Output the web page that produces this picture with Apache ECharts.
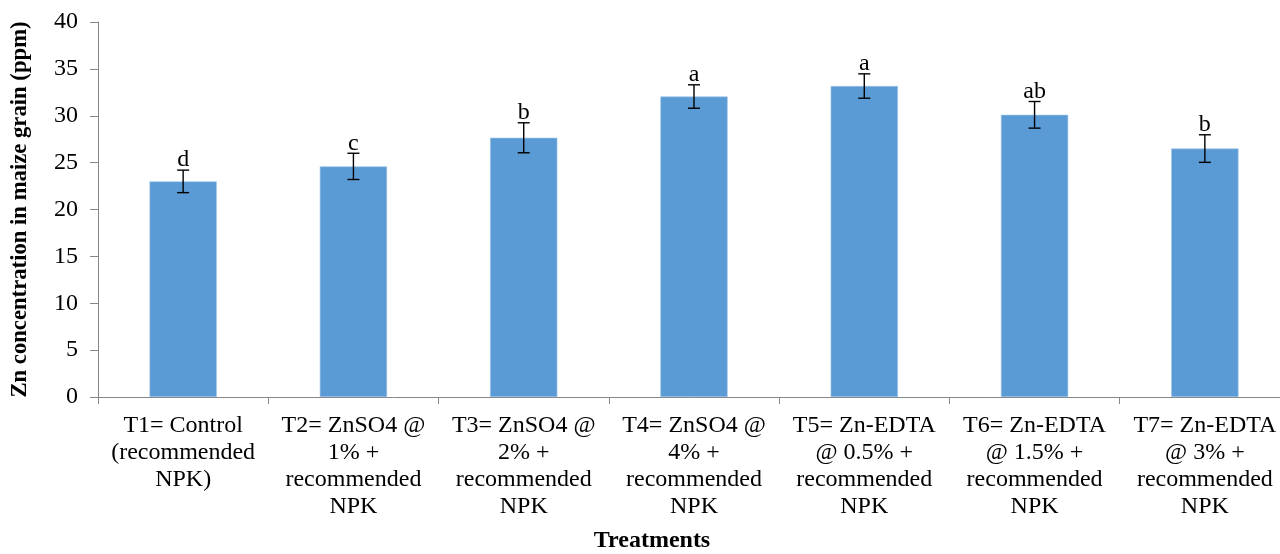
<!DOCTYPE html>
<html>
<head>
<meta charset="utf-8">
<script src="https://cdn.jsdelivr.net/npm/echarts@6/dist/echarts.min.js"></script>
<style>
  html, body { margin: 0; padding: 0; background: #fff; }
  #chart { width: 1280px; height: 554px; }
</style>
</head>
<body>
<div id="chart"></div>
<script>
// Zn concentration in maize grain by treatment, with standard error and significance letters
const categories = [
  'T1= Control\n(recommended\nNPK)',
  'T2= ZnSO4 @\n1% +\nrecommended\nNPK',
  'T3= ZnSO4 @\n2% +\nrecommended\nNPK',
  'T4= ZnSO4 @\n4% +\nrecommended\nNPK',
  'T5= Zn-EDTA\n@ 0.5% +\nrecommended\nNPK',
  'T6= Zn-EDTA\n@ 1.5% +\nrecommended\nNPK',
  'T7= Zn-EDTA\n@ 3% +\nrecommended\nNPK'
];
const znValues = [23.0, 24.6, 27.65, 32.05, 33.17, 30.1, 26.5];
const errValues = [1.2, 1.4, 1.6, 1.25, 1.3, 1.42, 1.47];
const letters = ['d', 'c', 'b', 'a', 'a', 'ab', 'b'];

const serif = '"Liberation Serif", "Times New Roman", serif';
const axisGray = '#868686';

const chart = echarts.init(document.getElementById('chart'));

const errorData = znValues.map((v, i) => [i, v - errValues[i], v + errValues[i]]);

chart.setOption({
  animation: false,
  backgroundColor: '#ffffff',
  grid: { left: 98, right: -10, top: 22, bottom: 157, containLabel: false, outerBoundsMode: 'none' },
  xAxis: {
    type: 'category',
    data: categories,
    axisLine: { lineStyle: { color: axisGray, width: 1 } },
    axisTick: { show: true, length: 7, lineStyle: { color: axisGray } },
    axisLabel: {
      color: '#000', fontFamily: serif, fontSize: 24, lineHeight: 27,
      margin: 15, interval: 0
    }
  },
  yAxis: {
    type: 'value',
    min: 0, max: 40, interval: 5,
    name: 'Zn concentration in maize grain (ppm)',
    nameLocation: 'middle',
    nameRotate: 90,
    nameGap: 66,
    nameTextStyle: { color: '#000', fontFamily: serif, fontSize: 22.7, fontWeight: 'bold' },
    axisLine: { show: true, lineStyle: { color: axisGray, width: 1 } },
    axisTick: { show: true, length: 8, lineStyle: { color: axisGray } },
    axisLabel: { color: '#000', fontFamily: serif, fontSize: 24, margin: 20 },
    splitLine: { show: false }
  },
  graphic: [{
    type: 'text',
    x: 652,
    y: 541,
    style: {
      text: 'Treatments', fill: '#000', font: 'bold 24px ' + serif,
      textAlign: 'center', textVerticalAlign: 'middle'
    }
  }],
  series: [
    {
      type: 'bar',
      data: znValues,
      barWidth: '39.5%',
      itemStyle: { color: '#5B9BD5', borderColor: '#9DC3E6', borderWidth: 0.6 }
    },
    {
      type: 'custom',
      data: errorData,
      encode: { x: 0, y: [1, 2] },
      z: 5,
      renderItem: function (params, api) {
        const i = api.value(0);
        const lo = api.coord([i, api.value(1)]);
        const hi = api.coord([i, api.value(2)]);
        const cap = 6;
        const st = { stroke: '#000', lineWidth: 1.4 };
        return {
          type: 'group',
          children: [
            { type: 'line', shape: { x1: hi[0], y1: hi[1], x2: lo[0], y2: lo[1] }, style: st },
            { type: 'line', shape: { x1: hi[0] - cap, y1: hi[1], x2: hi[0] + cap, y2: hi[1] }, style: st },
            { type: 'line', shape: { x1: lo[0] - cap, y1: lo[1], x2: lo[0] + cap, y2: lo[1] }, style: st },
            {
              type: 'text',
              x: hi[0], y: hi[1] + 2,
              style: {
                text: letters[params.dataIndex],
                fill: '#000',
                font: '24px ' + serif,
                textAlign: 'center',
                textVerticalAlign: 'bottom'
              }
            }
          ]
        };
      }
    }
  ]
});
</script>
</body>
</html>
